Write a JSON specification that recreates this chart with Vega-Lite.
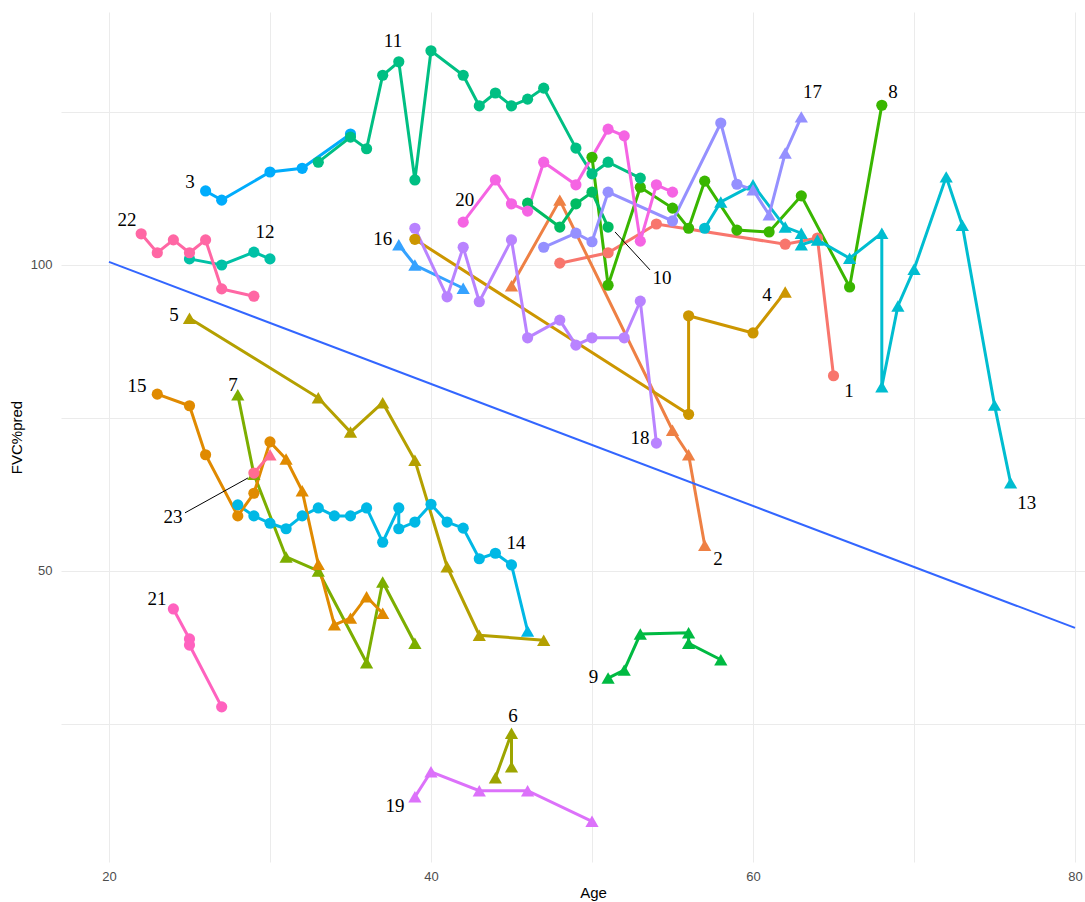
{
  "$schema": "https://vega.github.io/schema/vega-lite/v6.json",
  "width": 1024,
  "height": 850,
  "autosize": {"type": "none"},
  "padding": {"left": 61, "top": 12, "right": 0, "bottom": 40},
  "background": "white",
  "config": {"view": {"stroke": null}},
  "datasets": {
    "obs": [
      {"patient":"1","age":48,"fvc":100.3,"shape":"circle"},
      {"patient":"1","age":51,"fvc":102.0,"shape":"circle"},
      {"patient":"1","age":54,"fvc":106.7,"shape":"circle"},
      {"patient":"1","age":62,"fvc":103.4,"shape":"circle"},
      {"patient":"1","age":64,"fvc":104.4,"shape":"circle"},
      {"patient":"1","age":65,"fvc":81.9,"shape":"circle"},
      {"patient":"2","age":45,"fvc":96.6,"shape":"triangle"},
      {"patient":"2","age":48,"fvc":110.6,"shape":"triangle"},
      {"patient":"2","age":55,"fvc":73.0,"shape":"triangle"},
      {"patient":"2","age":56,"fvc":69.0,"shape":"triangle"},
      {"patient":"2","age":57,"fvc":54.2,"shape":"triangle"},
      {"patient":"3","age":26,"fvc":112.1,"shape":"circle"},
      {"patient":"3","age":27,"fvc":110.6,"shape":"circle"},
      {"patient":"3","age":30,"fvc":115.2,"shape":"circle"},
      {"patient":"3","age":32,"fvc":115.8,"shape":"circle"},
      {"patient":"3","age":35,"fvc":121.4,"shape":"circle"},
      {"patient":"4","age":39,"fvc":104.2,"shape":"circle"},
      {"patient":"4","age":56,"fvc":75.6,"shape":"circle"},
      {"patient":"4","age":56,"fvc":91.7,"shape":"circle"},
      {"patient":"4","age":60,"fvc":88.9,"shape":"circle"},
      {"patient":"4","age":62,"fvc":95.6,"shape":"triangle"},
      {"patient":"5","age":25,"fvc":91.3,"shape":"triangle"},
      {"patient":"5","age":33,"fvc":78.3,"shape":"triangle"},
      {"patient":"5","age":35,"fvc":72.7,"shape":"triangle"},
      {"patient":"5","age":37,"fvc":77.5,"shape":"triangle"},
      {"patient":"5","age":39,"fvc":68.1,"shape":"triangle"},
      {"patient":"5","age":41,"fvc":50.7,"shape":"triangle"},
      {"patient":"5","age":43,"fvc":39.5,"shape":"triangle"},
      {"patient":"5","age":47,"fvc":38.7,"shape":"triangle"},
      {"patient":"6","age":44,"fvc":16.2,"shape":"triangle"},
      {"patient":"6","age":45,"fvc":23.5,"shape":"triangle"},
      {"patient":"6","age":45,"fvc":18.0,"shape":"triangle"},
      {"patient":"7","age":28,"fvc":78.8,"shape":"triangle"},
      {"patient":"7","age":29,"fvc":65.8,"shape":"triangle"},
      {"patient":"7","age":31,"fvc":52.3,"shape":"triangle"},
      {"patient":"7","age":33,"fvc":50.0,"shape":"triangle"},
      {"patient":"7","age":36,"fvc":35.0,"shape":"triangle"},
      {"patient":"7","age":37,"fvc":48.2,"shape":"triangle"},
      {"patient":"7","age":39,"fvc":38.2,"shape":"triangle"},
      {"patient":"8","age":50,"fvc":117.6,"shape":"circle"},
      {"patient":"8","age":51,"fvc":96.7,"shape":"circle"},
      {"patient":"8","age":53,"fvc":112.7,"shape":"circle"},
      {"patient":"8","age":55,"fvc":109.3,"shape":"circle"},
      {"patient":"8","age":56,"fvc":106.0,"shape":"circle"},
      {"patient":"8","age":57,"fvc":113.7,"shape":"circle"},
      {"patient":"8","age":59,"fvc":105.7,"shape":"circle"},
      {"patient":"8","age":61,"fvc":105.4,"shape":"circle"},
      {"patient":"8","age":63,"fvc":111.3,"shape":"circle"},
      {"patient":"8","age":66,"fvc":96.4,"shape":"circle"},
      {"patient":"8","age":68,"fvc":126.1,"shape":"circle"},
      {"patient":"9","age":51,"fvc":32.5,"shape":"triangle"},
      {"patient":"9","age":52,"fvc":33.8,"shape":"triangle"},
      {"patient":"9","age":53,"fvc":39.7,"shape":"triangle"},
      {"patient":"9","age":56,"fvc":39.9,"shape":"triangle"},
      {"patient":"9","age":56,"fvc":38.2,"shape":"triangle"},
      {"patient":"9","age":58,"fvc":35.5,"shape":"triangle"},
      {"patient":"10","age":46,"fvc":110.1,"shape":"circle"},
      {"patient":"10","age":48,"fvc":106.2,"shape":"circle"},
      {"patient":"10","age":49,"fvc":110.0,"shape":"circle"},
      {"patient":"10","age":50,"fvc":111.9,"shape":"circle"},
      {"patient":"10","age":51,"fvc":106.2,"shape":"circle"},
      {"patient":"11","age":33,"fvc":116.8,"shape":"circle"},
      {"patient":"11","age":35,"fvc":120.9,"shape":"circle"},
      {"patient":"11","age":36,"fvc":119.0,"shape":"circle"},
      {"patient":"11","age":37,"fvc":131.0,"shape":"circle"},
      {"patient":"11","age":38,"fvc":133.2,"shape":"circle"},
      {"patient":"11","age":39,"fvc":113.9,"shape":"circle"},
      {"patient":"11","age":40,"fvc":135.0,"shape":"circle"},
      {"patient":"11","age":42,"fvc":131.0,"shape":"circle"},
      {"patient":"11","age":43,"fvc":126.0,"shape":"circle"},
      {"patient":"11","age":44,"fvc":128.1,"shape":"circle"},
      {"patient":"11","age":45,"fvc":126.0,"shape":"circle"},
      {"patient":"11","age":46,"fvc":127.1,"shape":"circle"},
      {"patient":"11","age":47,"fvc":128.9,"shape":"circle"},
      {"patient":"11","age":49,"fvc":119.1,"shape":"circle"},
      {"patient":"11","age":50,"fvc":114.9,"shape":"circle"},
      {"patient":"11","age":51,"fvc":116.8,"shape":"circle"},
      {"patient":"11","age":53,"fvc":114.2,"shape":"circle"},
      {"patient":"12","age":25,"fvc":101.0,"shape":"circle"},
      {"patient":"12","age":27,"fvc":100.0,"shape":"circle"},
      {"patient":"12","age":29,"fvc":102.1,"shape":"circle"},
      {"patient":"12","age":30,"fvc":101.0,"shape":"circle"},
      {"patient":"13","age":57,"fvc":106.0,"shape":"circle"},
      {"patient":"13","age":58,"fvc":110.3,"shape":"triangle"},
      {"patient":"13","age":60,"fvc":113.1,"shape":"triangle"},
      {"patient":"13","age":62,"fvc":106.2,"shape":"triangle"},
      {"patient":"13","age":63,"fvc":105.2,"shape":"triangle"},
      {"patient":"13","age":63,"fvc":103.3,"shape":"triangle"},
      {"patient":"13","age":64,"fvc":104.1,"shape":"triangle"},
      {"patient":"13","age":66,"fvc":101.1,"shape":"triangle"},
      {"patient":"13","age":68,"fvc":105.2,"shape":"triangle"},
      {"patient":"13","age":68,"fvc":80.1,"shape":"triangle"},
      {"patient":"13","age":69,"fvc":93.3,"shape":"triangle"},
      {"patient":"13","age":70,"fvc":99.3,"shape":"triangle"},
      {"patient":"13","age":72,"fvc":114.4,"shape":"triangle"},
      {"patient":"13","age":73,"fvc":106.5,"shape":"triangle"},
      {"patient":"13","age":75,"fvc":77.1,"shape":"triangle"},
      {"patient":"13","age":76,"fvc":64.4,"shape":"triangle"},
      {"patient":"14","age":28,"fvc":60.8,"shape":"circle"},
      {"patient":"14","age":29,"fvc":59.0,"shape":"circle"},
      {"patient":"14","age":30,"fvc":57.8,"shape":"circle"},
      {"patient":"14","age":31,"fvc":56.9,"shape":"circle"},
      {"patient":"14","age":32,"fvc":59.0,"shape":"circle"},
      {"patient":"14","age":33,"fvc":60.3,"shape":"circle"},
      {"patient":"14","age":34,"fvc":59.0,"shape":"circle"},
      {"patient":"14","age":35,"fvc":59.0,"shape":"circle"},
      {"patient":"14","age":36,"fvc":60.3,"shape":"circle"},
      {"patient":"14","age":37,"fvc":54.7,"shape":"circle"},
      {"patient":"14","age":38,"fvc":60.3,"shape":"circle"},
      {"patient":"14","age":38,"fvc":56.9,"shape":"circle"},
      {"patient":"14","age":39,"fvc":58.0,"shape":"circle"},
      {"patient":"14","age":40,"fvc":60.9,"shape":"circle"},
      {"patient":"14","age":41,"fvc":58.0,"shape":"circle"},
      {"patient":"14","age":42,"fvc":57.0,"shape":"circle"},
      {"patient":"14","age":43,"fvc":52.0,"shape":"circle"},
      {"patient":"14","age":44,"fvc":52.9,"shape":"circle"},
      {"patient":"14","age":45,"fvc":51.0,"shape":"circle"},
      {"patient":"14","age":46,"fvc":40.2,"shape":"triangle"},
      {"patient":"15","age":23,"fvc":78.9,"shape":"circle"},
      {"patient":"15","age":25,"fvc":77.0,"shape":"circle"},
      {"patient":"15","age":26,"fvc":69.0,"shape":"circle"},
      {"patient":"15","age":28,"fvc":59.0,"shape":"circle"},
      {"patient":"15","age":29,"fvc":62.7,"shape":"circle"},
      {"patient":"15","age":30,"fvc":71.1,"shape":"circle"},
      {"patient":"15","age":31,"fvc":68.3,"shape":"triangle"},
      {"patient":"15","age":32,"fvc":63.1,"shape":"triangle"},
      {"patient":"15","age":33,"fvc":51.1,"shape":"triangle"},
      {"patient":"15","age":34,"fvc":41.2,"shape":"triangle"},
      {"patient":"15","age":35,"fvc":42.3,"shape":"triangle"},
      {"patient":"15","age":36,"fvc":45.8,"shape":"triangle"},
      {"patient":"15","age":37,"fvc":43.1,"shape":"triangle"},
      {"patient":"16","age":38,"fvc":103.3,"shape":"triangle"},
      {"patient":"16","age":39,"fvc":100.0,"shape":"triangle"},
      {"patient":"16","age":42,"fvc":96.2,"shape":"triangle"},
      {"patient":"17","age":47,"fvc":102.9,"shape":"circle"},
      {"patient":"17","age":49,"fvc":105.2,"shape":"circle"},
      {"patient":"17","age":50,"fvc":103.8,"shape":"circle"},
      {"patient":"17","age":51,"fvc":111.9,"shape":"circle"},
      {"patient":"17","age":55,"fvc":107.2,"shape":"circle"},
      {"patient":"17","age":58,"fvc":123.2,"shape":"circle"},
      {"patient":"17","age":59,"fvc":113.2,"shape":"circle"},
      {"patient":"17","age":60,"fvc":112.3,"shape":"triangle"},
      {"patient":"17","age":61,"fvc":108.2,"shape":"triangle"},
      {"patient":"17","age":62,"fvc":118.3,"shape":"triangle"},
      {"patient":"17","age":63,"fvc":124.2,"shape":"triangle"},
      {"patient":"18","age":39,"fvc":106.0,"shape":"circle"},
      {"patient":"18","age":41,"fvc":94.8,"shape":"circle"},
      {"patient":"18","age":42,"fvc":102.9,"shape":"circle"},
      {"patient":"18","age":43,"fvc":94.0,"shape":"circle"},
      {"patient":"18","age":45,"fvc":104.1,"shape":"circle"},
      {"patient":"18","age":46,"fvc":88.1,"shape":"circle"},
      {"patient":"18","age":48,"fvc":91.0,"shape":"circle"},
      {"patient":"18","age":49,"fvc":86.9,"shape":"circle"},
      {"patient":"18","age":50,"fvc":88.1,"shape":"circle"},
      {"patient":"18","age":52,"fvc":88.1,"shape":"circle"},
      {"patient":"18","age":53,"fvc":94.1,"shape":"circle"},
      {"patient":"18","age":54,"fvc":70.9,"shape":"circle"},
      {"patient":"19","age":39,"fvc":13.1,"shape":"triangle"},
      {"patient":"19","age":40,"fvc":17.2,"shape":"triangle"},
      {"patient":"19","age":43,"fvc":14.1,"shape":"triangle"},
      {"patient":"19","age":46,"fvc":14.1,"shape":"triangle"},
      {"patient":"19","age":50,"fvc":9.1,"shape":"triangle"},
      {"patient":"20","age":42,"fvc":107.0,"shape":"circle"},
      {"patient":"20","age":44,"fvc":113.9,"shape":"circle"},
      {"patient":"20","age":45,"fvc":110.0,"shape":"circle"},
      {"patient":"20","age":46,"fvc":108.8,"shape":"circle"},
      {"patient":"20","age":47,"fvc":116.8,"shape":"circle"},
      {"patient":"20","age":49,"fvc":113.1,"shape":"circle"},
      {"patient":"20","age":51,"fvc":122.2,"shape":"circle"},
      {"patient":"20","age":52,"fvc":121.1,"shape":"circle"},
      {"patient":"20","age":53,"fvc":103.9,"shape":"circle"},
      {"patient":"20","age":54,"fvc":113.1,"shape":"circle"},
      {"patient":"20","age":55,"fvc":111.9,"shape":"circle"},
      {"patient":"21","age":24,"fvc":43.8,"shape":"circle"},
      {"patient":"21","age":25,"fvc":38.9,"shape":"circle"},
      {"patient":"21","age":25,"fvc":37.9,"shape":"circle"},
      {"patient":"21","age":27,"fvc":27.8,"shape":"circle"},
      {"patient":"22","age":22,"fvc":105.1,"shape":"circle"},
      {"patient":"22","age":23,"fvc":102.0,"shape":"circle"},
      {"patient":"22","age":24,"fvc":104.1,"shape":"circle"},
      {"patient":"22","age":25,"fvc":102.0,"shape":"circle"},
      {"patient":"22","age":26,"fvc":104.1,"shape":"circle"},
      {"patient":"22","age":27,"fvc":96.1,"shape":"circle"},
      {"patient":"22","age":29,"fvc":94.9,"shape":"circle"},
      {"patient":"23","age":29,"fvc":66.0,"shape":"circle"},
      {"patient":"23","age":30,"fvc":69.0,"shape":"triangle"}
    ],
    "fit": [
      {"age":20,"fvc":100.5},
      {"age":80,"fvc":40.7}
    ],
    "labels": [
      {"label":"1","age":65.96,"fvc":79.4},
      {"label":"2","age":57.83,"fvc":52.0},
      {"label":"3","age":25.03,"fvc":113.6},
      {"label":"4","age":60.87,"fvc":95.1},
      {"label":"5","age":24.04,"fvc":91.8},
      {"label":"6","age":45.1,"fvc":26.3},
      {"label":"7","age":27.7,"fvc":80.4},
      {"label":"8","age":68.7,"fvc":128.3},
      {"label":"9","age":50.1,"fvc":32.7},
      {"label":"10","age":54.35,"fvc":97.9},
      {"label":"11","age":37.64,"fvc":136.6},
      {"label":"12","age":29.69,"fvc":105.4},
      {"label":"13","age":77.0,"fvc":61.1},
      {"label":"14","age":45.28,"fvc":54.6},
      {"label":"15","age":21.74,"fvc":80.2},
      {"label":"16","age":37.0,"fvc":104.2},
      {"label":"17","age":63.7,"fvc":128.3},
      {"label":"18","age":52.98,"fvc":71.7},
      {"label":"19","age":37.76,"fvc":11.6},
      {"label":"20","age":42.1,"fvc":110.6},
      {"label":"21","age":22.98,"fvc":45.4},
      {"label":"22","age":21.12,"fvc":107.35},
      {"label":"23","age":23.98,"fvc":58.8}
    ],
    "leaders": [
      {"age":24.72,"fvc":59.5,"age2":28.63,"fvc2":65.2},
      {"age":51.43,"fvc":105.4,"age2":53.6,"fvc2":99.2}
    ]
  },
  "encoding": {
    "x": {
      "field": "age", "type": "quantitative",
      "scale": {"domain": [17.02, 80.62], "nice": false, "zero": false},
      "axis": {
        "title": "Age", "values": [20, 30, 40, 50, 60, 70, 80],
        "labelExpr": "datum.value % 20 === 0 ? datum.label : ''",
        "grid": true, "gridColor": "#EBEBEB", "gridWidth": 1,
        "domain": false, "ticks": false,
        "labelFont": "Liberation Sans", "labelFontSize": 13, "labelColor": "#4D4D4D", "labelPadding": 8,
        "titleFont": "Liberation Sans", "titleFontSize": 15, "titleFontWeight": "normal", "titleColor": "#000000",
        "titlePadding": 2, "titleX": 532
      }
    },
    "y": {
      "field": "fvc", "type": "quantitative",
      "scale": {"domain": [2.45, 141.34], "nice": false, "zero": false},
      "axis": {
        "title": "FVC%pred", "values": [25, 50, 75, 100, 125],
        "labelExpr": "datum.value % 50 === 0 ? datum.label : ''",
        "grid": true, "gridColor": "#EBEBEB", "gridWidth": 1,
        "domain": false, "ticks": false,
        "labelFont": "Liberation Sans", "labelFontSize": 13, "labelColor": "#4D4D4D", "labelPadding": 9,
        "titleFont": "Liberation Sans", "titleFontSize": 15, "titleFontWeight": "normal", "titleColor": "#000000",
        "titlePadding": 6
      }
    }
  },
  "layer": [
    {
      "data": {"name": "obs"},
      "mark": {"type": "line", "strokeWidth": 3},
      "encoding": {
        "color": {"field": "patient", "type": "nominal", "legend": null,
          "scale": {"domain": ["1","2","3","4","5","6","7","8","9","10","11","12","13","14","15","16","17","18","19","20","21","22","23"],
            "range": ["#F8766D","#EE8044","#00ACFC","#CC9600","#B4A000","#9DA500","#7CAE00","#39B600","#00BA42","#00BC62","#00BF83","#00C1A6","#00BDD0","#00B8E5","#E08A00","#35A2FF","#9590FF","#B983FF","#DC71FA","#F564E3","#FF62BF","#FF67A4","#FF6C91"]}},
        "detail": {"field": "patient"},
        "order": {"value": null}
      }
    },
    {
      "data": {"name": "obs"},
      "mark": {"type": "point", "filled": true, "opacity": 1, "strokeWidth": 0},
      "encoding": {
        "color": {"field": "patient", "type": "nominal", "legend": null},
        "shape": {"field": "shape", "type": "nominal", "legend": null,
          "scale": {"domain": ["circle", "triangle"], "range": ["circle", "triangle-up"]}},
        "size": {"field": "shape", "type": "nominal", "legend": null,
          "scale": {"domain": ["circle", "triangle"], "range": [125, 175]}}
      }
    },
    {
      "data": {"name": "fit"},
      "mark": {"type": "line", "color": "#3366FF", "strokeWidth": 2},
      "encoding": {}
    },
    {
      "data": {"name": "leaders"},
      "mark": {"type": "rule", "color": "#000000", "strokeWidth": 1},
      "encoding": {
        "x2": {"field": "age2"},
        "y2": {"field": "fvc2"}
      }
    },
    {
      "data": {"name": "labels"},
      "mark": {"type": "text", "font": "Liberation Serif", "fontSize": 19, "color": "#000000", "align": "center", "baseline": "middle"},
      "encoding": {
        "text": {"field": "label"}
      }
    }
  ]
}
